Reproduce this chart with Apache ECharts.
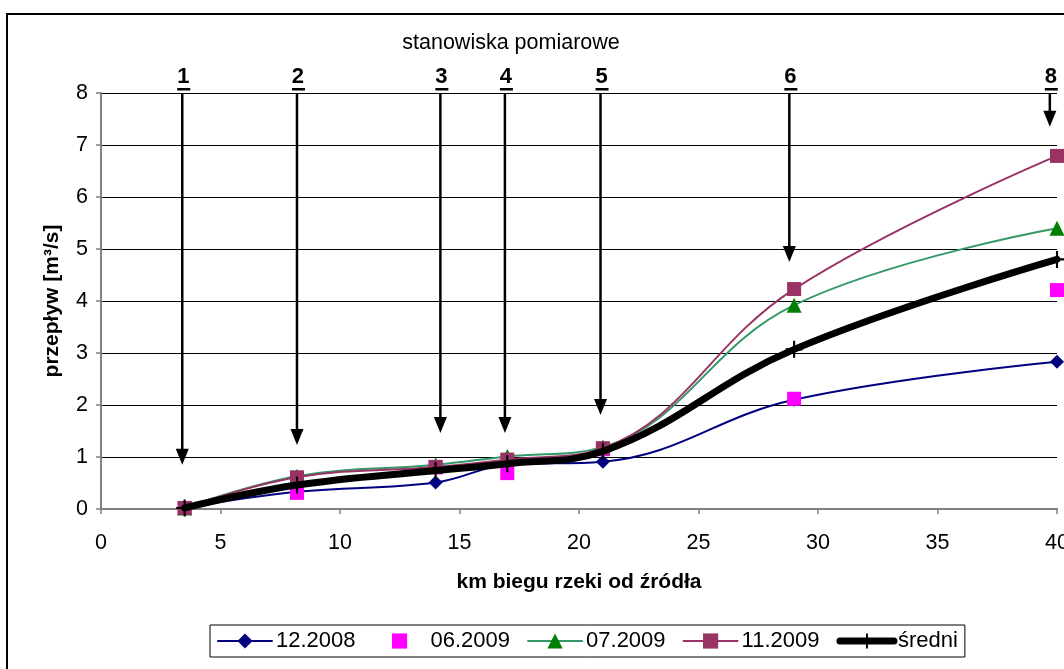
<!DOCTYPE html>
<html>
<head>
<meta charset="utf-8">
<script src="https://cdn.jsdelivr.net/npm/echarts@6/dist/echarts.min.js"></script>
<style>
  html, body { margin: 0; padding: 0; background: #fff; overflow: hidden; }
  #chart { width: 1064px; height: 669px; }
</style>
</head>
<body>
<div id="chart"></div>
<script>
// Distance along the river (km from source) of each measurement point
const km = [3.5, 8.2, 14.0, 17.0, 21.0, 29.0, 40.0];

// Flow [m3/s] per survey
const flow_2008_12 = [0.02, 0.33, 0.51, 0.85, 0.91, 2.10, 2.83];
const flow_2009_06 = [0.02, 0.31, 0.80, 0.69, 1.15, 2.12, 4.21];
const flow_2009_07 = [0.02, 0.63, 0.85, 1.01, 1.19, 3.92, 5.40];
const flow_2009_11 = [0.02, 0.61, 0.81, 0.95, 1.17, 4.23, 6.79];
const flow_mean    = [0.02, 0.46, 0.74, 0.87, 1.11, 3.07, 4.80];

const seriesNames = ['12.2008', '06.2009', '07.2009', '11.2009', 'średni'];

// Measurement stations: position, arrow tip level, label
const stationKm    = [3.4, 8.2, 14.2, 16.9, 20.9, 28.8, 39.7];
const stationTip   = [0.85, 1.23, 1.46, 1.46, 1.81, 4.75, 7.35];
const stationLabel = ['1', '2', '3', '4', '5', '6', '8'];

const FONT = '"Liberation Sans", Arial, sans-serif';
const FS = 21.5;

const pairs = (xs, ys) => xs.map((x, i) => [x, ys[i]]);
const plusPath = 'path://M7,0h2v7h7v2h-7v7h-2v-7h-7v-2h7z';

const chart = echarts.init(document.getElementById('chart'), null, { renderer: 'canvas' });

chart.setOption({
  animation: false,
  backgroundColor: '#fff',
  textStyle: { fontFamily: FONT },
  title: {
    text: 'stanowiska pomiarowe',
    left: 506,
    top: 27,
    textAlign: 'center',
    textStyle: { fontFamily: FONT, fontSize: FS, fontWeight: 'normal', color: '#000' }
  },
  graphic: [{
    type: 'rect',
    shape: { x: 7, y: 14, width: 1120, height: 720 },
    style: { fill: 'none', stroke: '#000', lineWidth: 2 },
    silent: true,
    z: -1
  }],
  legend: {
    data: seriesNames,
    left: 210,
    top: 625,
    orient: 'horizontal',
    itemWidth: 54,
    itemHeight: 19,
    itemGap: 17,
    padding: [5, 7, 5, 7],
    borderColor: '#000',
    borderWidth: 1,
    backgroundColor: '#fff',
    lineStyle: { width: 'inherit', cap: 'round' },
    textStyle: { fontFamily: FONT, fontSize: 22, color: '#000', padding: [0, 0, 0, -1] }
  },
  grid: { left: 101, right: 7, top: 93, bottom: 160, containLabel: false, outerBoundsMode: 'none' },
  xAxis: [{
    type: 'value',
    min: 0, max: 40, interval: 5,
    name: 'km biegu rzeki od źródła',
    nameLocation: 'middle',
    nameGap: 63,
    nameTextStyle: { fontFamily: FONT, fontSize: 21, fontWeight: 'bold', color: '#000' },
    axisLine: { show: true, onZero: false, lineStyle: { color: '#808080', width: 2 } },
    axisTick: { show: true, inside: false, length: 5, lineStyle: { color: '#808080', width: 1.5 } },
    axisLabel: { fontFamily: FONT, fontSize: FS, color: '#000', margin: 23 },
    splitLine: { show: false }
  }, {
    // frame along the top of the plot
    type: 'value', position: 'top', min: 0, max: 40, interval: 5, z: 5,
    axisLine: { show: true, lineStyle: { color: '#808080', width: 2 } },
    axisTick: { show: false }, axisLabel: { show: false }, splitLine: { show: false }
  }],
  yAxis: [{
    type: 'value',
    min: 0, max: 8, interval: 1,
    name: 'przepływ [m³/s]',
    nameLocation: 'middle',
    nameRotate: 90,
    nameGap: 38,
    nameTextStyle: { fontFamily: FONT, fontSize: 21, fontWeight: 'bold', color: '#000' },
    axisLine: { show: true, onZero: false, lineStyle: { color: '#808080', width: 2 } },
    axisTick: { show: true, inside: false, length: 5, lineStyle: { color: '#808080', width: 1.5 } },
    axisLabel: { fontFamily: FONT, fontSize: FS, color: '#000', margin: 13 },
    splitLine: { show: true, lineStyle: { color: '#000', width: 1 } }
  }, {
    // frame along the right of the plot
    type: 'value', position: 'right', min: 0, max: 8, interval: 1, z: 5,
    axisLine: { show: true, lineStyle: { color: '#808080', width: 2 } },
    axisTick: { show: false }, axisLabel: { show: false }, splitLine: { show: false }
  }],
  series: [
    {
      name: '12.2008', type: 'line', smooth: 0.4,
      data: pairs(km, flow_2008_12),
      symbol: 'diamond', symbolSize: 14,
      lineStyle: { color: '#000080', width: 2 },
      itemStyle: { color: '#000080' },
      z: 2
    },
    {
      name: '06.2009', type: 'line',
      data: pairs(km, flow_2009_06),
      symbol: 'rect', symbolSize: 14,
      lineStyle: { width: 0, opacity: 0 },
      itemStyle: { color: '#FF00FF' },
      z: 3
    },
    {
      name: '07.2009', type: 'line', smooth: 0.4,
      data: pairs(km, flow_2009_07),
      symbol: 'triangle', symbolSize: 15,
      lineStyle: { color: '#339966', width: 2 },
      itemStyle: { color: '#008000' },
      z: 4
    },
    {
      name: '11.2009', type: 'line', smooth: 0.4,
      data: pairs(km, flow_2009_11),
      symbol: 'rect', symbolSize: 14,
      lineStyle: { color: '#993366', width: 2 },
      itemStyle: { color: '#993366' },
      z: 5
    },
    {
      name: 'średni', type: 'line', smooth: 0.4,
      data: pairs(km, flow_mean),
      symbol: plusPath, symbolSize: 17,
      lineStyle: { color: '#000', width: 7, cap: 'round' },
      itemStyle: { color: '#000' },
      z: 6
    },
    {
      name: 'stanowiska', type: 'custom',
      data: stationKm.map((x, i) => [x, stationTip[i], stationLabel[i]]),
      clip: false,
      z: 7,
      renderItem: function (params, api) {
        const x = api.value(0);
        const tip = api.value(1);
        const label = stationLabel[params.dataIndex];
        const top = api.coord([x, 8]);
        const end = api.coord([x, tip]);
        const headH = 16, headW = 13;
        return {
          type: 'group',
          children: [
            { type: 'line',
              shape: { x1: top[0], y1: top[1] + 1, x2: end[0], y2: end[1] - headH + 2 },
              style: { stroke: '#000', lineWidth: 2.5 } },
            { type: 'polygon',
              shape: { points: [[end[0] - headW / 2, end[1] - headH], [end[0] + headW / 2, end[1] - headH], [end[0], end[1]]] },
              style: { fill: '#000' } },
            { type: 'text',
              style: { text: label, x: top[0] + 1, y: top[1] - 16, align: 'center', verticalAlign: 'middle',
                       font: 'bold 22px ' + FONT, fill: '#000' } },
            { type: 'rect',
              shape: { x: top[0] - 5, y: top[1] - 5, width: 13, height: 2.5 },
              style: { fill: '#000' } }
          ]
        };
      }
    }
  ]
});
</script>
</body>
</html>
